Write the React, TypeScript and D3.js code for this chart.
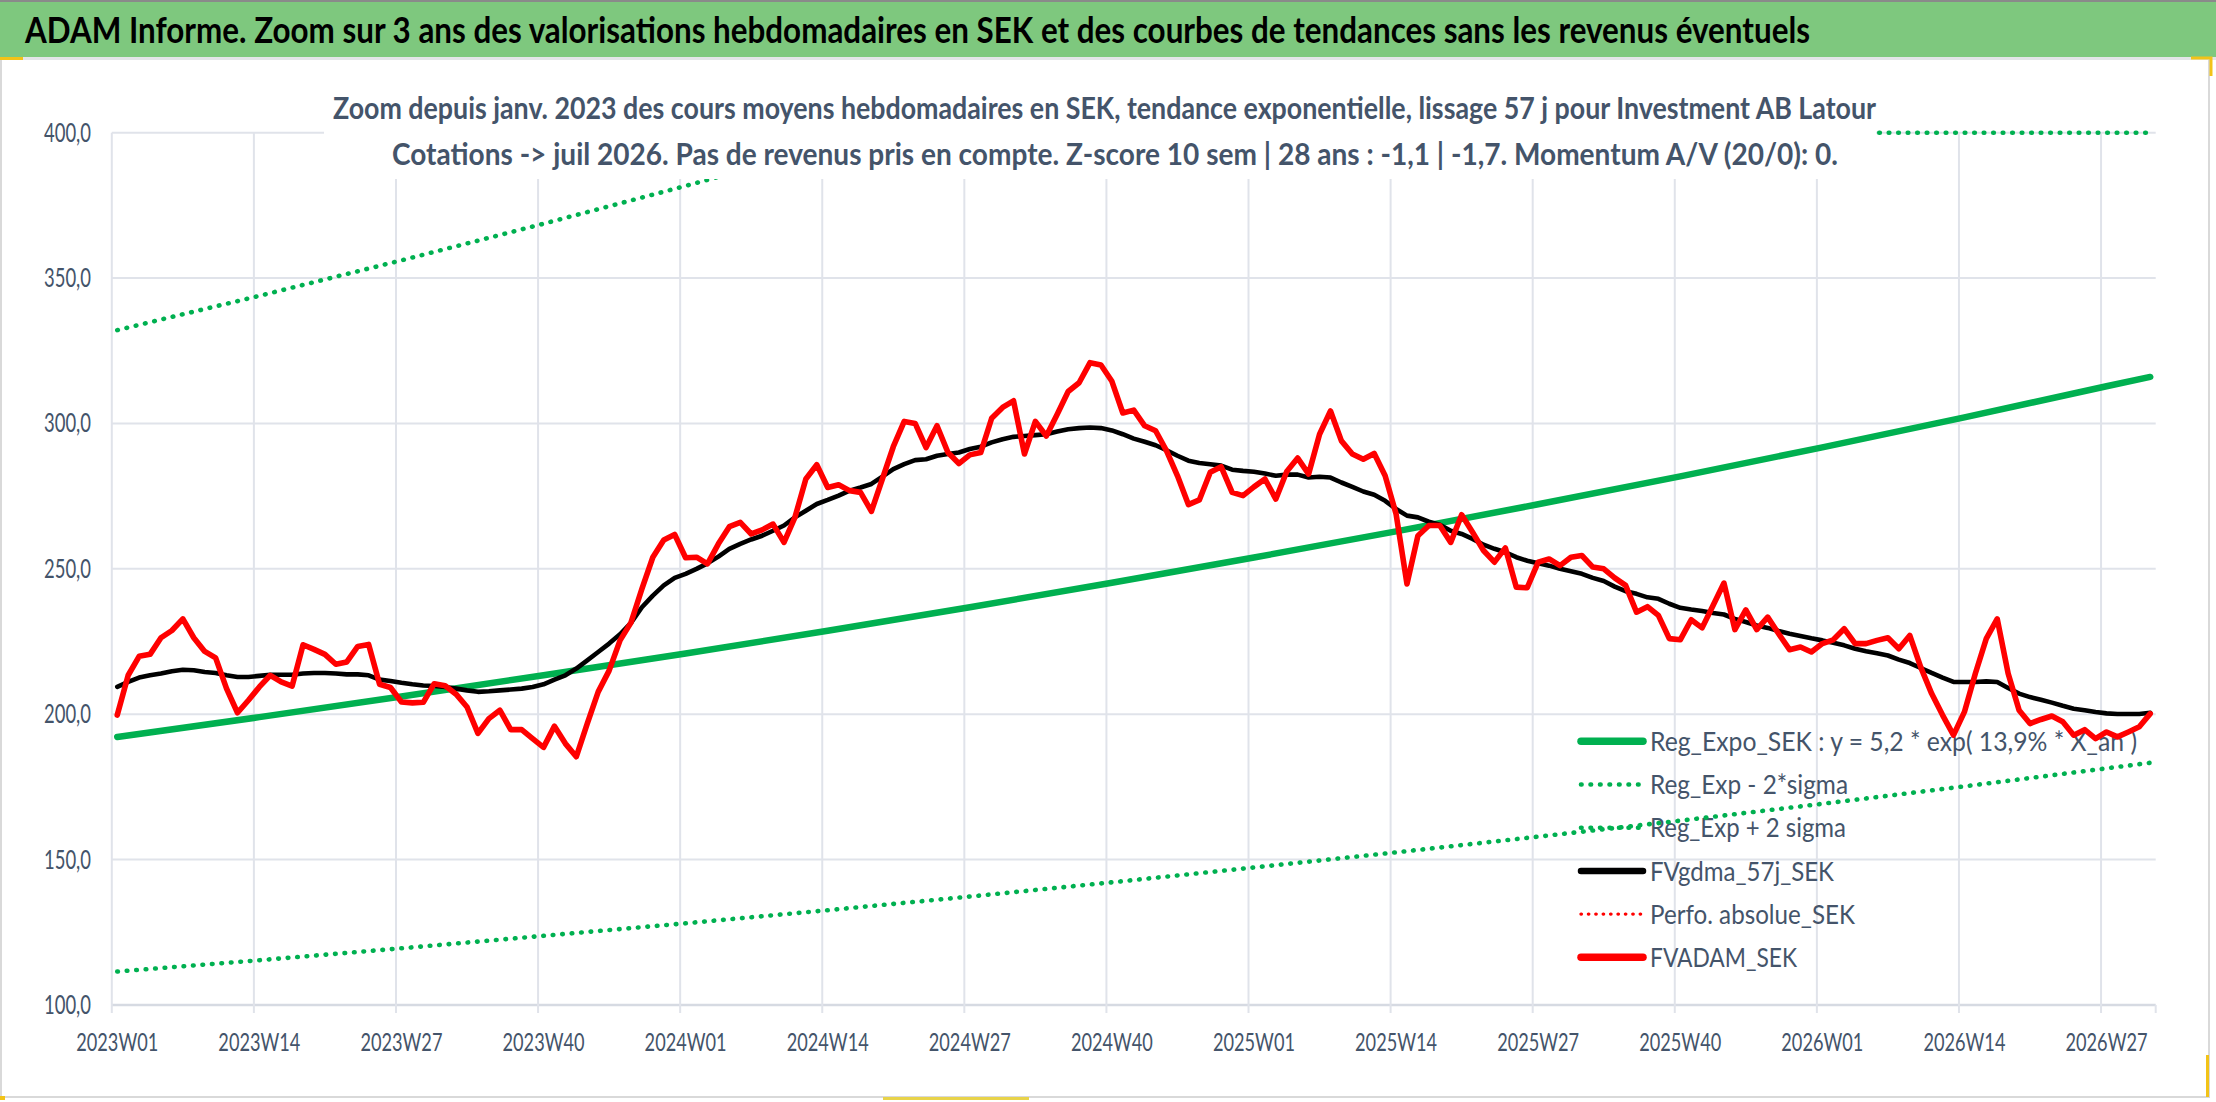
import React from "react";
import * as d3 from "d3";

// ---------- DATA ----------
const years = [2023, 2024, 2025, 2026];
const weeksPerYear = [52, 52, 52, 31];
const weeks: string[] = [];
years.forEach((y, k) => {
  for (let w = 1; w <= weeksPerYear[k]; w++) weeks.push(`${y}W${String(w).padStart(2, "0")}`);
});

const tickLabels = [
  "2023W01", "2023W14", "2023W27", "2023W40", "2024W01", "2024W14", "2024W27", "2024W40",
  "2025W01", "2025W14", "2025W27", "2025W40", "2026W01", "2026W14", "2026W27",
];
const yTicks = [100, 150, 200, 250, 300, 350, 400];

// FVADAM_SEK (weekly)
const fvadam = [
  199.7, 213.4, 219.9, 220.6, 226.3, 228.8, 232.8, 226.3, 221.6, 219.4,
  208.8, 200.5, 204.8, 209.4, 213.4, 211.1, 209.7, 223.9, 222.3, 220.6,
  217.2, 218.0, 223.3, 224.0, 210.3, 209.2, 204.2, 203.9, 204.1, 210.5,
  209.8, 206.9, 202.5, 193.4, 198.5, 201.4, 194.7, 194.7, 191.6, 188.6,
  195.9, 189.9, 185.4, 196.8, 207.7, 215.0, 225.4, 231.5, 243.1, 254.0,
  259.9, 261.8, 253.8, 254.0, 251.7, 258.6, 264.5, 266.0, 262.0, 263.4,
  265.4, 259.1, 267.7, 280.9, 285.8, 278.0, 278.9, 276.9, 276.3, 269.8,
  280.9, 292.0, 300.7, 300.0, 291.7, 299.2, 290.0, 286.2, 289.2, 290.0,
  301.8, 305.5, 307.8, 289.5, 300.7, 295.7, 303.2, 311.0, 314.0, 320.9,
  320.1, 314.5, 303.6, 304.6, 299.2, 297.5, 290.6, 282.0, 272.1, 273.7,
  283.2, 285.1, 276.3, 275.2, 278.2, 280.9, 274.0, 283.5, 288.1, 282.6,
  296.3, 304.3, 294.0, 289.5, 287.7, 289.7, 282.0, 268.9, 244.8, 261.4,
  264.9, 264.9, 259.1, 268.6, 262.6, 256.3, 252.3, 257.2, 243.7, 243.5,
  252.3, 253.4, 251.1, 254.0, 254.6, 250.6, 250.0, 246.9, 244.3, 235.1,
  237.0, 234.0, 226.0, 225.6, 232.5, 229.7, 237.4, 245.1, 229.1, 235.9,
  229.1, 233.4, 227.7, 222.2, 223.1, 221.4, 224.3, 225.6, 229.4, 224.3,
  224.3, 225.4, 226.3, 222.5, 227.1, 216.2, 207.1, 199.7, 192.8, 200.8,
  214.0, 226.0, 232.8, 214.0, 201.4, 196.8, 198.2, 199.4, 197.4, 192.8,
  194.7, 191.6, 193.9, 192.2, 193.9, 195.7, 200.2,
];

// FVgdma_57j_SEK (weekly)
const fvgdma = [
  209.4, 211.1, 212.6, 213.4, 214.0, 214.8, 215.3, 215.1, 214.5, 214.2,
  213.4, 212.8, 212.8, 213.2, 213.6, 213.6, 213.6, 214.0, 214.2, 214.2,
  214.0, 213.7, 213.7, 213.4, 211.9, 211.4, 210.8, 210.3, 209.9, 209.7,
  209.4, 208.8, 208.2, 207.7, 207.9, 208.2, 208.5, 208.8, 209.4, 210.3,
  211.9, 213.4, 215.7, 218.5, 221.4, 224.3, 227.5, 231.4, 236.8, 240.8,
  244.3, 246.9, 248.3, 250.0, 251.9, 254.2, 256.9, 258.6, 260.1, 261.4,
  263.1, 264.9, 267.7, 270.0, 272.3, 273.7, 275.2, 276.9, 278.0, 279.2,
  281.7, 284.3, 286.0, 287.4, 287.7, 288.9, 289.5, 290.0, 291.2, 292.0,
  293.5, 294.6, 295.4, 295.7, 296.0, 296.3, 297.2, 298.0, 298.4, 298.6,
  298.4, 297.6, 296.3, 294.8, 293.7, 292.5, 290.8, 288.9, 287.2, 286.4,
  286.0, 285.5, 284.1, 283.7, 283.4, 282.8, 282.0, 282.4, 282.4, 281.4,
  281.7, 281.4, 279.7, 278.2, 276.6, 275.5, 273.4, 270.6, 268.3, 267.7,
  266.2, 265.2, 263.1, 262.0, 260.3, 258.3, 256.9, 255.7, 254.0, 252.8,
  251.9, 251.1, 250.0, 249.2, 248.3, 246.9, 245.8, 243.9, 242.3, 241.4,
  240.2, 239.7, 238.0, 236.6, 236.0, 235.5, 234.8, 234.3, 232.8, 231.7,
  230.5, 229.7, 228.6, 227.7, 226.9, 226.1, 225.4, 224.6, 223.7, 222.5,
  221.7, 221.0, 220.2, 218.8, 217.6, 215.9, 214.2, 212.6, 211.1, 211.1,
  211.1, 211.3, 211.1, 209.0, 207.1, 205.9, 205.0, 204.0, 202.9, 201.9,
  201.4, 200.8, 200.3, 200.1, 200.1, 200.1, 200.5,
];

// Trend curves, read at the labelled weeks and the last week
const trendWeeks = [...tickLabels, "2026W31"];
const regExpo = [192.2, 199.0, 206.1, 213.4, 220.9, 228.7, 236.8, 245.2, 253.9, 262.9, 272.2, 281.8, 291.8, 302.1, 312.8, 316.0];
const regLow = [111.5, 115.4, 119.5, 123.8, 128.1, 132.6, 137.3, 142.2, 147.3, 152.5, 157.9, 163.4, 169.2, 175.2, 181.4, 183.3];
const regHigh = [332.1, 343.9, 356.1, 368.7, 381.7, 395.2, 400, 400, 400, 400, 400, 400, 400, 400, 400, 400];

const legendNames = [
  "Reg_Expo_SEK : y = 5,2 * exp( 13,9% *  X_an )",
  "Reg_Exp - 2*sigma",
  "Reg_Exp + 2 sigma",
  "FVgdma_57j_SEK",
  "Perfo. absolue_SEK",
  "FVADAM_SEK",
];

const title = "ADAM Informe. Zoom sur 3 ans des valorisations hebdomadaires en SEK et des courbes de tendances sans les revenus éventuels";
const sub1 = "Zoom depuis janv. 2023 des cours moyens hebdomadaires en SEK, tendance exponentielle, lissage 57 j pour Investment AB Latour";
const sub2 = "Cotations -> juil 2026. Pas de revenus pris en compte. Z-score 10 sem | 28 ans : -1,1 | -1,7. Momentum A/V (20/0): 0.";

// ---------- LAYOUT ----------
const W = 2216;
const H = 1102;
const plotL = 111.8;
const plotR = 2155.7;
const plotT = 132.7;
const plotB = 1005;
const FONT = "Lato, 'Open Sans', sans-serif";
const TXT = "#44546a";
const GREEN = "#00b050";
const DOTS = "0.6 8.9";

export default function App() {
  const x = d3.scaleBand<string>().domain(weeks).range([plotL, plotR]).paddingInner(0).paddingOuter(0);
  const bw = x.bandwidth();
  const cx = (w: string) => (x(w) as number) + bw / 2;
  const y = d3.scaleLinear().domain([100, 400]).range([plotB, plotT]);

  const weekLine = d3
    .line<number>()
    .x((_, i) => cx(weeks[i]))
    .y((v) => y(v));
  const trendLine = d3
    .line<number>()
    .x((_, i) => cx(trendWeeks[i]))
    .y((v) => y(Math.min(400, v)));

  const legendX0 = 1581;
  const legendX1 = 1643;
  const legendTextX = 1650;
  const legendY0 = 741.3;
  const legendDy = 43.2;
  const legendLens = [487, 198, 196, 184, 205, 147];
  const legendStyles = [
    { stroke: GREEN, w: 7.5, dash: undefined as string | undefined },
    { stroke: GREEN, w: 4.6, dash: DOTS },
    { stroke: GREEN, w: 4.6, dash: DOTS },
    { stroke: "#000000", w: 6.5, dash: undefined },
    { stroke: "#ff0000", w: 3.4, dash: "0.4 7" },
    { stroke: "#ff0000", w: 7.5, dash: undefined },
  ];

  return (
    <svg
      width={W}
      height={H}
      viewBox={`0 0 ${W} ${H}`}
      style={{ position: "absolute", left: 0, top: 0, display: "block", background: "#fff" }}
    >
      {/* chart frame */}
      <rect x={1} y={59} width={2208} height={1038} fill="#fff" stroke="#d9d9d9" strokeWidth={2} />
      {/* title band */}
      <rect x={0} y={0} width={W} height={57} fill="#7ec87e" />
      <rect x={0} y={0} width={W} height={2} fill="#8a8a8a" />
      <rect x={0} y={57} width={W} height={3} fill="#e3e5e8" />
      <text
        x={25}
        y={43}
        fontFamily={FONT}
        fontWeight={700}
        fontSize={36}
        fill="#000"
        textLength={1785}
        lengthAdjust="spacingAndGlyphs"
      >
        {title}
      </text>

      {/* horizontal gridlines */}
      {yTicks.map((t) => (
        <line
          key={"h" + t}
          x1={plotL}
          x2={plotR}
          y1={y(t)}
          y2={y(t)}
          stroke={t === 100 ? "#d6dae2" : "#e0e3ea"}
          strokeWidth={t === 100 ? 2.6 : 2}
        />
      ))}
      {/* vertical gridlines */}
      {tickLabels.map((t) => (
        <line key={"v" + t} x1={x(t)} x2={x(t)} y1={plotT} y2={plotB + 8} stroke="#e0e3ea" strokeWidth={2} />
      ))}
      <line x1={plotR} x2={plotR} y1={plotB} y2={plotB + 8} stroke="#e0e3ea" strokeWidth={2} />

      {/* y labels */}
      {yTicks.map((t) => (
        <text
          key={"yl" + t}
          x={91}
          y={y(t) + 9}
          textAnchor="end"
          fontFamily={FONT}
          fontSize={26.5}
          fill={TXT}
          textLength={47}
          lengthAdjust="spacingAndGlyphs"
        >
          {d3.format(".1f")(t).replace(".", ",")}
        </text>
      ))}
      {/* x labels */}
      {tickLabels.map((t) => (
        <text
          key={"xl" + t}
          x={cx(t)}
          y={1050.7}
          textAnchor="middle"
          fontFamily={FONT}
          fontSize={25.5}
          fill={TXT}
          textLength={82}
          lengthAdjust="spacingAndGlyphs"
        >
          {t}
        </text>
      ))}

      {/* legend (under the series) */}
      {legendNames.map((n, k) => {
        const ly = legendY0 + k * legendDy;
        const s = legendStyles[k];
        return (
          <g key={"lg" + k}>
            <line
              x1={legendX0}
              x2={legendX1}
              y1={ly}
              y2={ly}
              stroke={s.stroke}
              strokeWidth={s.w}
              strokeDasharray={s.dash}
              strokeLinecap="round"
            />
            <text
              x={legendTextX}
              y={ly + 9.6}
              fontFamily={FONT}
              fontSize={26.5}
              fill={TXT}
              textLength={legendLens[k]}
              lengthAdjust="spacingAndGlyphs"
            >
              {n}
            </text>
          </g>
        );
      })}

      {/* trend curves */}
      <path d={trendLine(regLow) || ""} fill="none" stroke={GREEN} strokeWidth={4.6} strokeDasharray={DOTS} strokeLinecap="round" />
      <path d={trendLine(regHigh) || ""} fill="none" stroke={GREEN} strokeWidth={4.6} strokeDasharray={DOTS} strokeLinecap="round" />
      <path d={trendLine(regExpo) || ""} fill="none" stroke={GREEN} strokeWidth={6.5} strokeLinejoin="round" strokeLinecap="round" />
      {/* moving average */}
      <path d={weekLine(fvgdma) || ""} fill="none" stroke="#000" strokeWidth={4.6} strokeLinejoin="round" strokeLinecap="round" />
      {/* valuation */}
      <path d={weekLine(fvadam) || ""} fill="none" stroke="#ff0000" strokeWidth={5.6} strokeLinejoin="round" strokeLinecap="round" />

      {/* subtitle box */}
      <rect x={324} y={72} width={1552} height={107} fill="#fff" />
      <text
        x={333}
        y={118.5}
        fontFamily={FONT}
        fontWeight={700}
        fontSize={30.5}
        fill={TXT}
        textLength={1543}
        lengthAdjust="spacingAndGlyphs"
      >
        {sub1}
      </text>
      <text
        x={392}
        y={165}
        fontFamily={FONT}
        fontWeight={700}
        fontSize={30.5}
        fill={TXT}
        textLength={1446}
        lengthAdjust="spacingAndGlyphs"
      >
        {sub2}
      </text>

      {/* selection handles */}
      <rect x={0} y={57} width={23} height={3} fill="#f2c318" />
      <path d="M2191,58 L2211,58 L2211,76" fill="none" stroke="#f2c318" strokeWidth={3} />
      <rect x={883} y={1097} width={146} height={3} fill="#e8d34a" />
      <rect x={2206} y={1055} width={3} height={42} fill="#f2c318" />
      <rect x={0} y={1096} width={5} height={4} fill="#f2c318" />
    </svg>
  );
}
